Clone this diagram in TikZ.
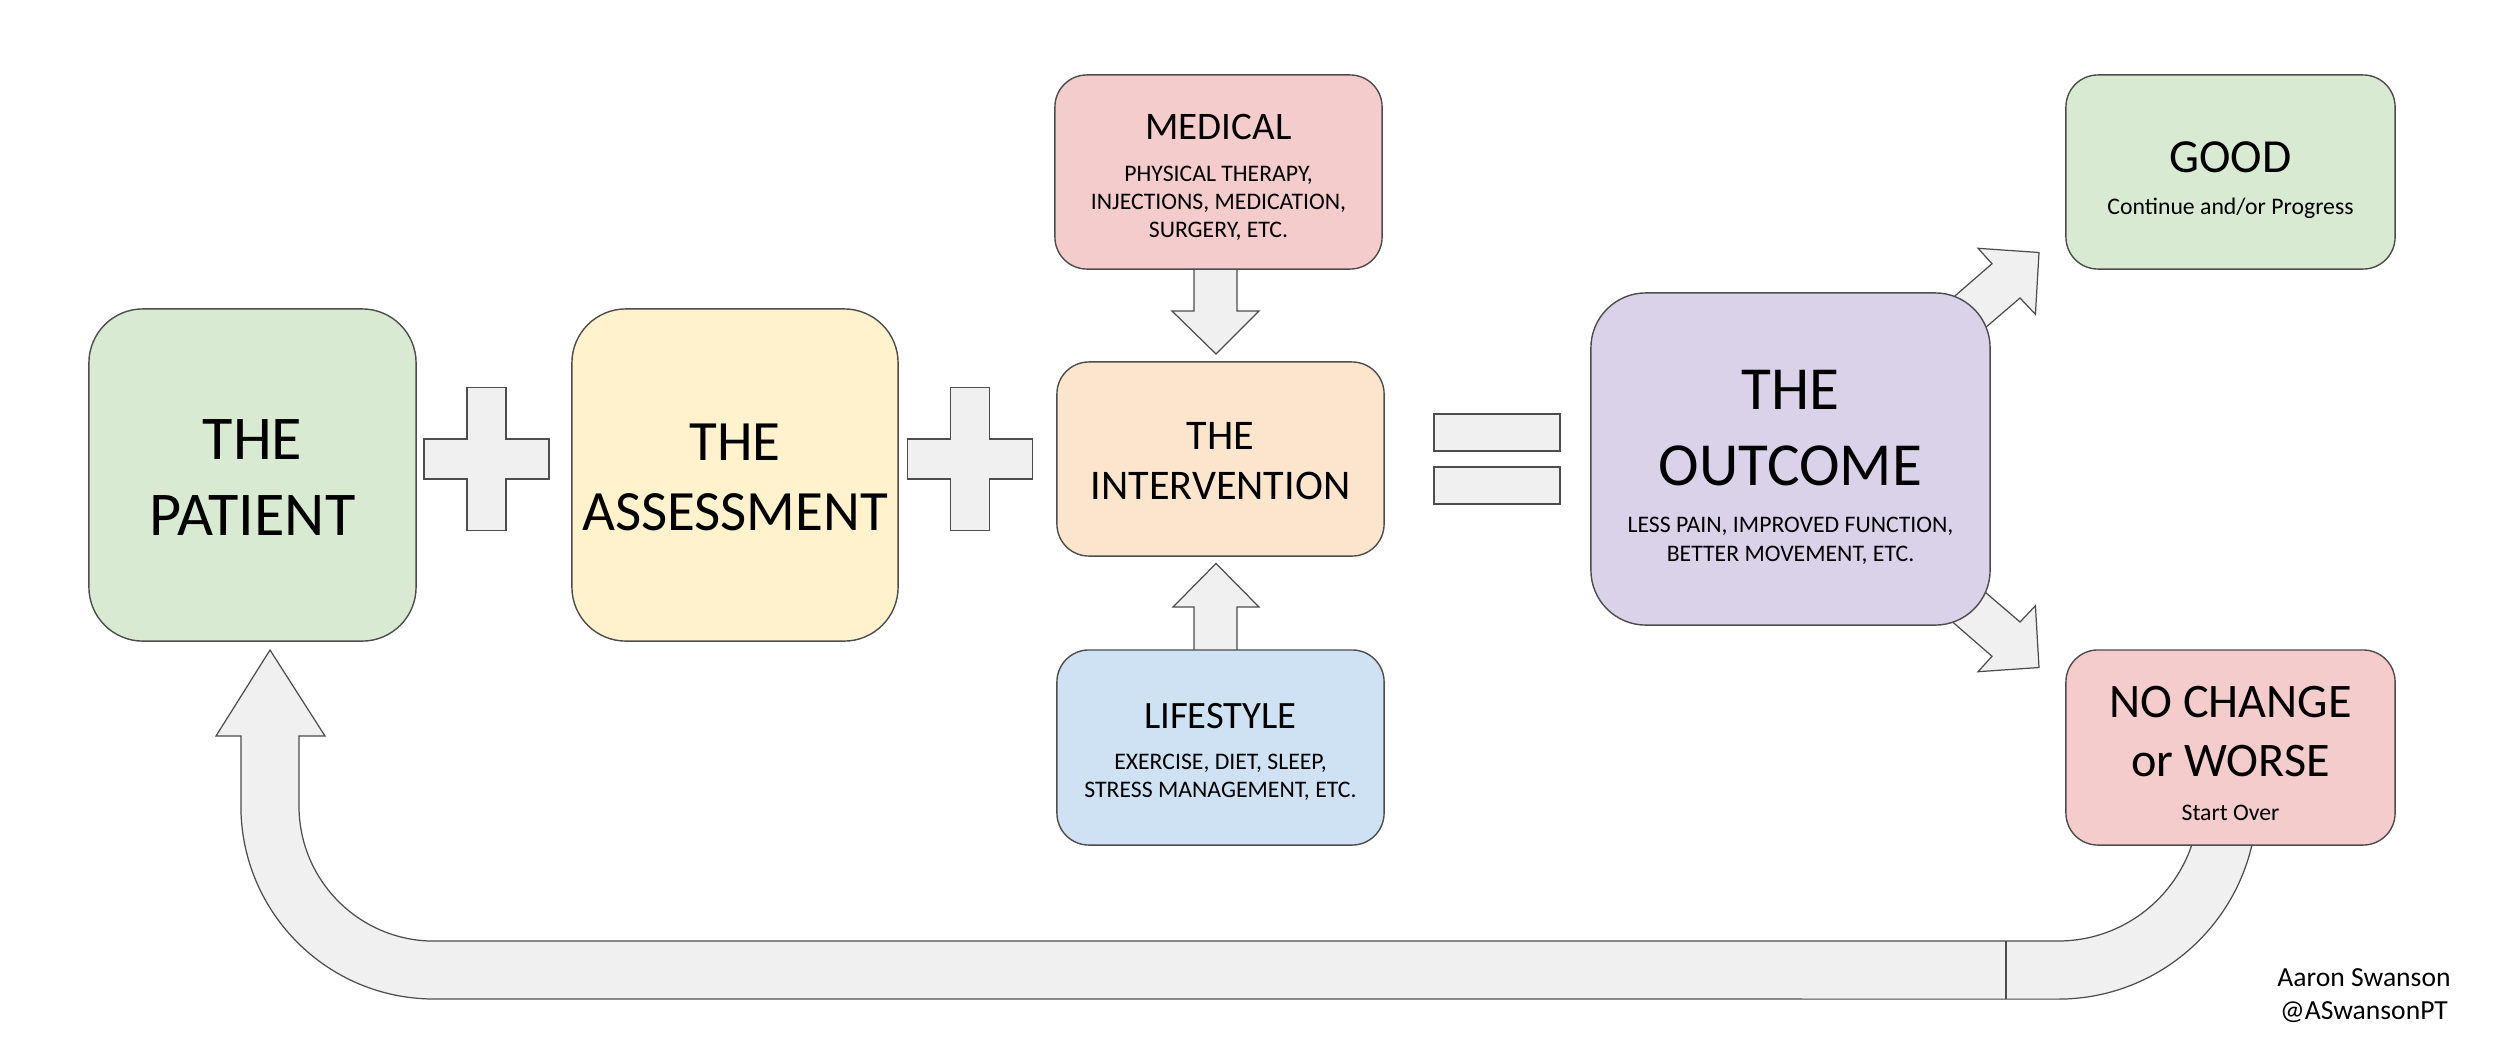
\documentclass[tikz,border=0pt]{standalone}
\usepackage{fontspec}
\setmainfont{Carlito}
\definecolor{cgreen}{HTML}{D9EAD3}
\definecolor{cyellow}{HTML}{FFF2CC}
\definecolor{cpink}{HTML}{F4CCCC}
\definecolor{cpeach}{HTML}{FCE5CD}
\definecolor{cblue}{HTML}{CFE2F3}
\definecolor{cpurple}{HTML}{D9D2E9}
\definecolor{arrowgray}{HTML}{F0F0F0}
\definecolor{edgegray}{HTML}{4D4D4D}
\newcommand\myfs[1]{\fontsize{#1}{1.2\dimexpr #1pt\relax}\selectfont}
\begin{document}
\begin{tikzpicture}[x=0.01cm,y=0.01cm,
  box/.style={draw=edgegray, line width=0.4pt, rectangle, inner sep=0pt},
  bigbox/.style={box, rounded corners=0.54cm},
  smallbox/.style={box, rounded corners=0.32cm},
  blockarrow/.style={draw=edgegray, line width=0.35pt, fill=arrowgray},
  txt/.style={anchor=base, inner sep=0pt, text=black},
]
\useasboundingbox (0,0) rectangle (2500,-1045);
\fill[white] (0,0) rectangle (2500,-1045);

% ---------- block arrows (drawn first, boxes cover their ends) ----------
% return U-arrow
\draw[blockarrow] (270,-650) -- (325,-736) -- (299,-736) -- (299,-806)
  arc[start angle=180, end angle=270, radius=1.35cm] -- (2058,-941)
  arc[start angle=270, end angle=360, radius=1.41cm] -- (2257,-800)
  arc[start angle=0, end angle=-90, radius=1.99cm] -- (434,-999)
  arc[start angle=270, end angle=180, radius=1.93cm] -- (241,-736) -- (216,-736) -- cycle;
\coordinate (seamtop) at (2006,-941);
\coordinate (seambot) at (2006,-999);
\draw[draw=edgegray, line width=0.35pt] (seamtop) -- (seambot);

% plus signs
\foreach \cx in {486.5,970}{
  \draw[blockarrow, shift={(\cx,-459)}]
    (-19.5,71.5) -- (19.5,71.5) -- (19.5,20) -- (62.5,20) -- (62.5,-20) -- (19.5,-20)
    -- (19.5,-71.5) -- (-19.5,-71.5) -- (-19.5,-20) -- (-62.5,-20) -- (-62.5,20) -- (-19.5,20) -- cycle;
}
% equals sign
\draw[blockarrow] (1434,-414) rectangle (1560,-451);
\draw[blockarrow] (1434,-467) rectangle (1560,-504);

% medical -> intervention
\draw[blockarrow] (1194,-262) -- (1194,-311) -- (1172,-311) -- (1216,-354) -- (1259,-311) -- (1237,-311) -- (1237,-262) -- cycle;
% lifestyle -> intervention
\draw[blockarrow] (1194,-657) -- (1194,-607) -- (1173,-607) -- (1216,-563.5) -- (1259,-607) -- (1237,-607) -- (1237,-657) -- cycle;
% outcome -> good
\draw[blockarrow] (1933,-315) -- (1992,-263.7) -- (1978,-248.3) -- (2039,-252.5) -- (2035.4,-314.3) -- (2020,-298) -- (1964,-346) -- cycle;
% outcome -> no change
\draw[blockarrow] (1933,-605) -- (1992,-656.3) -- (1978,-671.7) -- (2039,-667.5) -- (2035.4,-605.7) -- (2020,-622) -- (1964,-574) -- cycle;

% ---------- boxes ----------
\node[bigbox, fill=cgreen, minimum width=3.27cm, minimum height=3.32cm] (patient) at (252.5,-475) {};
\node[bigbox, fill=cyellow, minimum width=3.26cm, minimum height=3.32cm] (assessment) at (735,-475) {};
\node[smallbox, fill=cpink, minimum width=3.27cm, minimum height=1.94cm] (medical) at (1218.5,-172) {};
\node[smallbox, fill=cpeach, minimum width=3.27cm, minimum height=1.94cm] (intervention) at (1220.5,-459) {};
\node[smallbox, fill=cblue, minimum width=3.27cm, minimum height=1.95cm] (lifestyle) at (1220.5,-747.5) {};
\node[box, rounded corners=0.55cm, fill=cpurple, minimum width=3.99cm, minimum height=3.32cm] (outcome) at (1790.5,-459) {};
\node[smallbox, fill=cgreen, minimum width=3.29cm, minimum height=1.94cm] (good) at (2230.5,-172) {};
\node[smallbox, fill=cpink, minimum width=3.29cm, minimum height=1.95cm] (nochange) at (2230.5,-747.5) {};

% ---------- texts ----------
\node[txt, font=\myfs{17.7}] (patientA) at (252.5,-459) {THE};
\node[txt, font=\myfs{17.7}] (patientB) at (252.5,-535) {PATIENT};

\node[txt, font=\myfs{16.2}] (assessA) at (735,-460) {THE};
\node[txt, font=\myfs{16.2}] (assessB) at (735,-530) {ASSESSMENT};

\node[txt, font=\myfs{12}] (intervA) at (1220.5,-449) {THE};
\node[txt, font=\myfs{12}] (intervB) at (1220.5,-499) {INTERVENTION};

\node[txt, font=\myfs{11.1}] (medA) at (1218.5,-139) {MEDICAL};
\node[txt, font=\myfs{6.75}] (medB) at (1218.5,-181) {PHYSICAL THERAPY,};
\node[txt, font=\myfs{6.75}] (medC) at (1218.5,-209) {INJECTIONS, MEDICATION,};
\node[txt, font=\myfs{6.75}] (medD) at (1218.5,-237) {SURGERY, ETC.};

\node[txt, font=\myfs{11}] (lifeA) at (1220.5,-728) {LIFESTYLE};
\node[txt, font=\myfs{6.75}] (lifeB) at (1220.5,-769) {EXERCISE, DIET, SLEEP,};
\node[txt, font=\myfs{6.75}] (lifeC) at (1220.5,-797) {STRESS MANAGEMENT, ETC.};

\node[txt, font=\myfs{17.4}] (outA) at (1790.5,-409) {THE};
\node[txt, font=\myfs{17.4}] (outB) at (1790.5,-485) {OUTCOME};
\node[txt, font=\myfs{6.75}] (outC) at (1790.5,-532) {LESS PAIN, IMPROVED FUNCTION,};
\node[txt, font=\myfs{6.75}] (outD) at (1790.5,-561) {BETTER MOVEMENT, ETC.};

\node[txt, font=\myfs{13.5}] (goodA) at (2230.5,-172) {GOOD};
\node[txt, font=\myfs{6.75}] (goodB) at (2230.5,-214) {Continue and/or Progress};

\node[txt, font=\myfs{13.7}] (ncA) at (2230.5,-717) {NO CHANGE};
\node[txt, font=\myfs{13.7}] (ncB) at (2230.5,-776) {or WORSE};
\node[txt, font=\myfs{6.75}] (ncC) at (2230.5,-820) {Start Over};

\node[txt, font=\myfs{7.85}] (authorA) at (2364,-986) {Aaron Swanson};
\node[txt, font=\myfs{7.85}] (authorB) at (2364,-1019) {@ASwansonPT};
\end{tikzpicture}
\end{document}
